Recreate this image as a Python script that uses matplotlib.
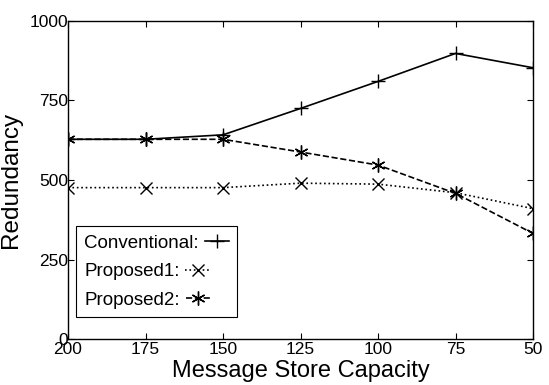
import matplotlib.pyplot as plt

plt.rcParams['font.family'] = ['Liberation Sans', 'DejaVu Sans']

# capacities on the x axis (drawn right to left)
capacity = [200, 175, 150, 125, 100, 75, 50]
conventional = [628, 628, 642, 725, 810, 898, 853]
proposed1 = [476, 476, 476, 490, 487, 460, 410]
proposed2 = [628, 628, 628, 588, 547, 458, 332]

fig = plt.figure(figsize=(5.49, 3.85), dpi=100)
ax = fig.add_axes([68 / 549, 1 - 339 / 385, (533 - 68) / 549, (339 - 21) / 385])

ax.plot(capacity, conventional, '-', color='black', lw=1.2, marker='+', ms=10, mew=1.0,
        label='Conventional:')
ax.plot(capacity, proposed1, ':', color='black', lw=1.2, marker='x', ms=8, mew=1.0,
        label='Proposed1:')
ax.plot(capacity, proposed2, '--', color='black', lw=1.2, marker=(6, 2, 0), ms=10, mew=1.0,
        label='Proposed2:')

ax.set_xlim(200, 50)
ax.set_ylim(0, 1000)
ax.set_xticks(capacity)
ax.set_yticks([0, 250, 500, 750, 1000])
ax.tick_params(direction='in', top=True, right=True, labelsize=12.5, length=4, pad=2,
               colors='black')
ax.tick_params(axis='y', pad=0)
for s in ax.spines.values():
    s.set_linewidth(1.0)

ax.set_xlabel('Message Store Capacity', fontsize=17, labelpad=2)
ax.set_ylabel('Redundancy', fontsize=17.5, labelpad=5)

leg = ax.legend(loc='lower left', bbox_to_anchor=(0.017, 0.069), borderaxespad=0,
                markerfirst=False, fontsize=13.5, handlelength=1.3, handletextpad=0.3,
                fancybox=False, framealpha=1, edgecolor='black', borderpad=0.45,
                labelspacing=0.6)
leg.get_frame().set_linewidth(0.8)
# keep label text left aligned even with the marker after it
for col in leg._legend_handle_box.get_children():
    col.align = 'left'

fig.savefig('out.png', dpi=100)
